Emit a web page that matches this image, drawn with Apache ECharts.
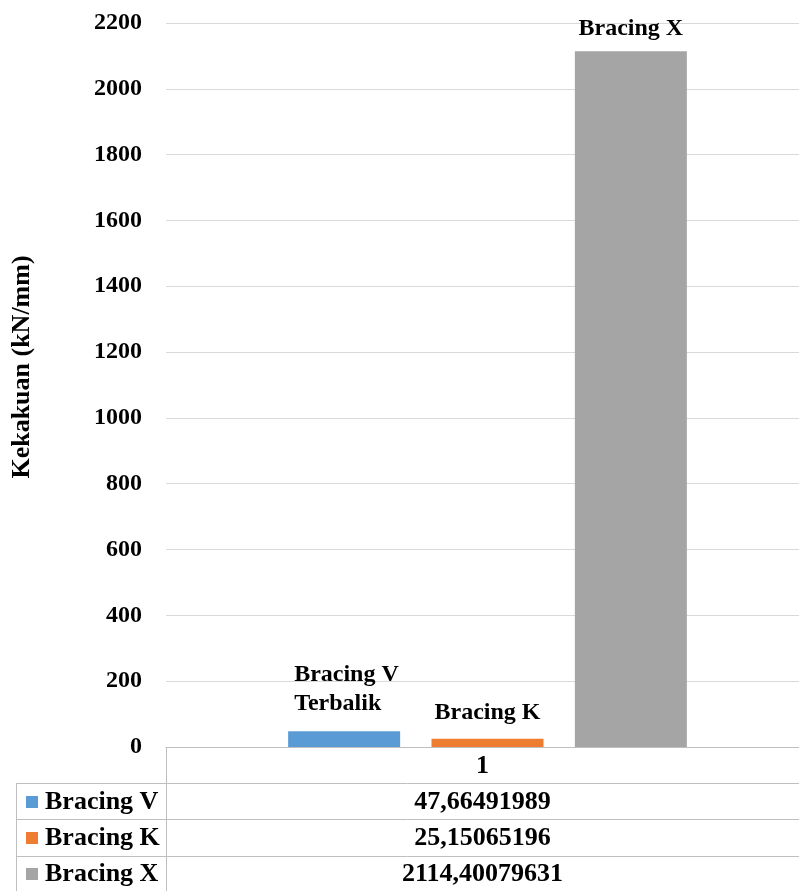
<!DOCTYPE html>
<html>
<head>
<meta charset="utf-8">
<script src="https://cdn.jsdelivr.net/npm/echarts@6/dist/echarts.min.js"></script>
<style>
  html, body { margin: 0; padding: 0; background: #fff; }
  #chart { width: 799px; height: 891px; }
</style>
</head>
<body>
<div id="chart"></div>
<script>
// Stiffness of each bracing system (kN/mm)
const categories = ['1'];
const seriesNames = ['Bracing V', 'Bracing K', 'Bracing X'];
const barLabels = ['Bracing V\nTerbalik', 'Bracing K', 'Bracing X'];
const bracingV = [47.66491989];
const bracingK = [25.15065196];
const bracingX = [2114.40079631];
const yTicks = { min: 0, max: 2200, interval: 200 };
const yTitle = 'Kekakuan (kN/mm)';

const colors = ['#5b9bd5', '#ed7d31', '#a5a5a5'];
const FONT = '"Liberation Serif", "Times New Roman", serif';
const FS = 24;
const TABLE_FS = 26;
const GRID_COLOR = '#d9d9d9';
const TABLE_COLOR = '#bfbfbf';

const seriesData = [bracingV, bracingK, bracingX];
const labelDist = [13, 11, 8];

const chart = echarts.init(document.getElementById('chart'), null, { renderer: 'canvas' });

// plot area bounds (the plot runs a little past the right edge of the canvas)
const gridLeft = 166, gridTop = 23, axisY = 747, gridWidth = 643;
const tableLeft = 16, tableRight = 799;
const rowLines = [783, 819, 856];
const rowCenters = [802, 838, 874];

const series = seriesData.map((data, i) => ({
  name: seriesNames[i],
  type: 'bar',
  data: data,
  barWidth: 112,
  barGap: '28%',
  itemStyle: { color: colors[i] },
  label: {
    show: true,
    position: 'top',
    distance: labelDist[i],
    formatter: () => barLabels[i],
    fontFamily: FONT,
    fontWeight: 'bold',
    fontSize: FS,
    color: '#000',
    lineHeight: 29,
    align: i === 0 ? 'left' : 'center',
    offset: i === 0 ? [-50, 0] : [0, 0]
  }
}));

// data table below the axis
const fmt = v => String(v).replace('.', ',');
const graphics = [];
const line = (x1, y1, x2, y2) => ({
  type: 'line',
  shape: { x1, y1, x2, y2 },
  style: { stroke: TABLE_COLOR, lineWidth: 1 },
  silent: true
});
graphics.push(line(gridLeft + 0.5, axisY, gridLeft + 0.5, 891));
graphics.push(line(tableLeft + 0.5, rowLines[0], tableLeft + 0.5, 891));
rowLines.forEach(y => graphics.push(line(tableLeft, y + 0.5, tableRight, y + 0.5)));

// vertical axis title
graphics.push({
  type: 'text',
  x: 22, y: 367,
  rotation: Math.PI / 2,
  style: {
    text: yTitle, fontFamily: FONT, fontWeight: 'bold', fontSize: 26,
    fill: '#000', align: 'center', verticalAlign: 'middle'
  }
});

const colCenter = (gridLeft + tableRight) / 2;
graphics.push({
  type: 'text',
  x: colCenter, y: 766,
  style: {
    text: categories[0], fontFamily: FONT, fontWeight: 'bold', fontSize: TABLE_FS,
    fill: '#000', align: 'center', verticalAlign: 'middle'
  }
});
seriesNames.forEach((name, i) => {
  const cy = rowCenters[i];
  graphics.push({
    type: 'rect',
    shape: { x: 26, y: cy - 6, width: 12, height: 12 },
    style: { fill: colors[i] }
  });
  graphics.push({
    type: 'text',
    x: 45, y: cy,
    style: {
      text: name, fontFamily: FONT, fontWeight: 'bold', fontSize: TABLE_FS,
      fill: '#000', align: 'left', verticalAlign: 'middle'
    }
  });
  graphics.push({
    type: 'text',
    x: colCenter, y: cy,
    style: {
      text: fmt(seriesData[i][0]), fontFamily: FONT, fontWeight: 'bold', fontSize: TABLE_FS,
      fill: '#000', align: 'center', verticalAlign: 'middle'
    }
  });
});

chart.setOption({
  animation: false,
  backgroundColor: '#fff',
  grid: {
    left: gridLeft, top: gridTop, width: gridWidth, height: axisY - gridTop,
    containLabel: false, outerBoundsMode: 'none'
  },
  xAxis: {
    type: 'category',
    data: categories,
    axisLine: { show: true, lineStyle: { color: TABLE_COLOR, width: 1 } },
    axisTick: { show: false },
    axisLabel: { show: false }
  },
  yAxis: {
    type: 'value',
    min: yTicks.min,
    max: yTicks.max,
    interval: yTicks.interval,
    axisLine: { show: false },
    axisTick: { show: false },
    axisLabel: {
      fontFamily: FONT, fontWeight: 'bold', fontSize: FS, color: '#000', margin: 24,
      formatter: v => String(v)
    },
    splitLine: { lineStyle: { color: GRID_COLOR, width: 1 } }
  },
  series: series,
  graphic: graphics
});
</script>
</body>
</html>
